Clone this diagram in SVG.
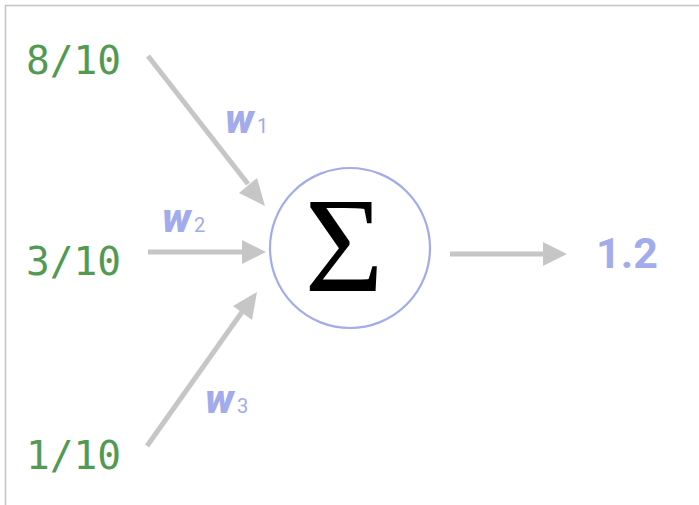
<svg xmlns="http://www.w3.org/2000/svg" width="699" height="505" viewBox="0 0 699 505">
<style>
.in{font-family:"DejaVu Sans Mono","Liberation Mono",monospace;font-size:39.5px;fill:#529a52}
.w{font-family:"Roboto","Liberation Sans",sans-serif;font-weight:900;font-style:italic;font-size:41px;fill:#a2abec}
.sub{font-family:"Roboto","Liberation Sans",sans-serif;font-size:20px;fill:#a2abec}
.conn{stroke:#c6c6c6;stroke-width:5;fill:none}
.head{fill:#c6c6c6}
</style>
<rect width="699" height="505" fill="#fff"/>
<path d="M5.5,505 V5.5 H699" fill="none" stroke="#c4c4c4" stroke-width="1.5"/>
<g id="connectors">
<line class="conn" x1="148" y1="56" x2="248" y2="184"/>
<polygon class="head" points="265,206 239,193 257,178"/>
<line class="conn" x1="148" y1="252" x2="242" y2="252"/>
<polygon class="head" points="266,252 242,240 242,264"/>
<line class="conn" x1="147" y1="446" x2="242" y2="312"/>
<polygon class="head" points="257,292 252,320 233,306"/>
<line class="conn" x1="450" y1="254" x2="544" y2="254"/>
<polygon class="head" points="567,254 543,242 543,266"/>
</g>
<g id="input1"><text class="in" x="26" y="74">8/10</text></g>
<g id="input2"><text class="in" x="26" y="275">3/10</text></g>
<g id="input3"><text class="in" x="26" y="469">1/10</text></g>
<g id="w1"><text class="w" x="225" y="133">w</text><text class="sub" x="257" y="133">1</text></g>
<g id="w2"><text class="w" x="162" y="232">w</text><text class="sub" x="194" y="232">2</text></g>
<g id="w3"><text class="w" x="205" y="413">w</text><text class="sub" x="237" y="413">3</text></g>
<g id="sum">
<circle cx="350" cy="248" r="80" fill="#fff" stroke="#a2abec" stroke-width="2.2"/>
<text x="344" y="291" text-anchor="middle" font-family="Liberation Serif,serif" font-size="136" fill="#000">Σ</text>
</g>
<g id="output"><text x="596" y="268" font-family="Roboto,Liberation Sans,sans-serif" font-weight="bold" font-size="43" fill="#a2abec">1.2</text></g>
</svg>
